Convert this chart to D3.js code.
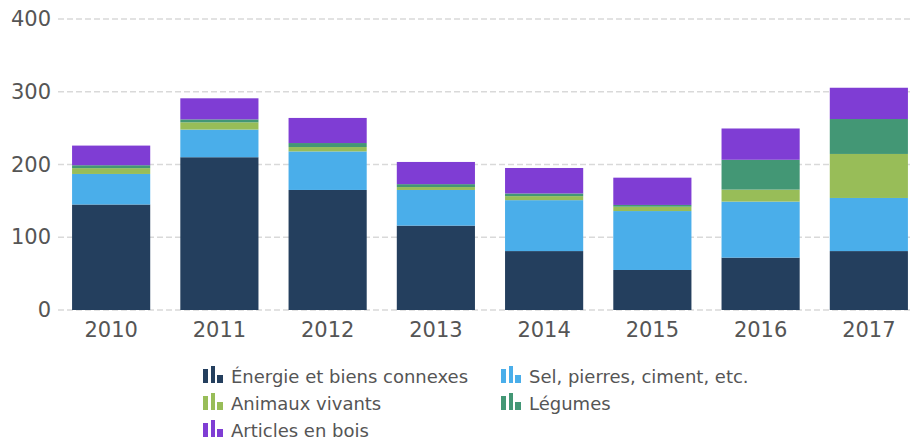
<!DOCTYPE html>
<html>
<head>
<meta charset="utf-8">
<script src="https://cdn.jsdelivr.net/npm/d3@7"></script>
<style>
  body { margin: 0; background: #fff; }
  svg { display: block; font-family: "DejaVu Sans", Verdana, sans-serif; }
</style>
</head>
<body>
<div id="grafico"></div>
<script>
// Données
const annees = ["2010", "2011", "2012", "2013", "2014", "2015", "2016", "2017"];
const energie = [145, 210, 165, 116, 81, 55, 72, 81];
const sel = [42, 38, 53, 49, 70, 81, 77, 73];
const animaux = [8, 10, 6, 4, 5.5, 6, 16.5, 60.5];
const legumes = [4, 4, 5.5, 4, 3.7, 2.4, 41, 48];
const bois = [27, 29, 34.5, 30.5, 35, 37.5, 43, 43];
const ticksY = [0, 100, 200, 300, 400];

const series = [
    { nom: "Énergie et biens connexes", valeurs: energie, couleur: "#243f5e" },
    { nom: "Sel, pierres, ciment, etc.", valeurs: sel, couleur: "#4aaeea" },
    { nom: "Animaux vivants", valeurs: animaux, couleur: "#98bd58" },
    { nom: "Légumes", valeurs: legumes, couleur: "#439775" },
    { nom: "Articles en bois", valeurs: bois, couleur: "#7f3dd4" }
];

const largeur = 913, hauteur = 442;
const margin = { top: 19, left: 58, bottom: 132 };

const svg = d3.select("#grafico").append("svg")
    .attr("width", largeur)
    .attr("height", hauteur);

// table pour d3.stack
const table = annees.map((a, i) => {
    const ligne = { annee: a };
    series.forEach(s => ligne[s.nom] = s.valeurs[i]);
    return ligne;
});
const pile = d3.stack().keys(series.map(s => s.nom))(table);

const x = d3.scaleBand()
    .domain(annees)
    .range([margin.left, margin.left + 864])
    .paddingInner(0.278)
    .paddingOuter(0.13);

const y = d3.scaleLinear()
    .domain([0, 400])
    .range([hauteur - margin.bottom, margin.top]);

// grille
svg.append("g")
    .selectAll("line")
    .data(ticksY)
    .join("line")
    .attr("x1", margin.left)
    .attr("x2", largeur)
    .attr("y1", d => y(d))
    .attr("y2", d => y(d))
    .attr("stroke", "#d9d9d9")
    .attr("stroke-width", 1.5)
    .attr("stroke-dasharray", "6,3");

// axe Y
const axeY = svg.append("g")
    .attr("transform", `translate(${margin.left - 7},0)`)
    .call(d3.axisLeft(y).tickValues(ticksY).tickSize(0).tickPadding(0));
axeY.select(".domain").remove();
axeY.selectAll("text")
    .attr("fill", "#555")
    .attr("font-size", 21)
    .attr("font-family", "DejaVu Sans, Verdana, sans-serif");

// barres empilées
svg.append("g")
    .selectAll("g")
    .data(pile)
    .join("g")
    .attr("fill", (d, i) => series[i].couleur)
    .selectAll("rect")
    .data(d => d)
    .join("rect")
    .attr("x", d => x(d.data.annee))
    .attr("width", x.bandwidth())
    .attr("y", d => y(d[1]))
    .attr("height", d => y(d[0]) - y(d[1]));

// axe X
const axeX = svg.append("g")
    .attr("transform", `translate(0,${y(0)})`)
    .call(d3.axisBottom(x).tickSize(0).tickPadding(12));
axeX.select(".domain").remove();
axeX.selectAll("text")
    .attr("fill", "#555")
    .attr("font-size", 21)
    .attr("font-family", "DejaVu Sans, Verdana, sans-serif");

// légende
const positions = [[203, 383], [501, 383], [203, 410], [501, 410], [203, 437]];
const legende = svg.append("g")
    .selectAll("g")
    .data(series)
    .join("g")
    .attr("transform", (d, i) => `translate(${positions[i][0]},${positions[i][1]})`);

// petite icône à trois barres
const icone = [[0, -14, 5, 14], [8, -17, 4, 17], [14, -8, 6, 8]];
legende.selectAll("rect")
    .data(d => icone.map(r => ({ r, c: d.couleur })))
    .join("rect")
    .attr("x", d => d.r[0])
    .attr("y", d => d.r[1])
    .attr("width", d => d.r[2])
    .attr("height", d => d.r[3])
    .attr("fill", d => d.c);

legende.append("text")
    .attr("x", 28)
    .attr("y", 0)
    .attr("fill", "#555")
    .attr("font-size", 18)
    .text(d => d.nom);
</script>
</body>
</html>
